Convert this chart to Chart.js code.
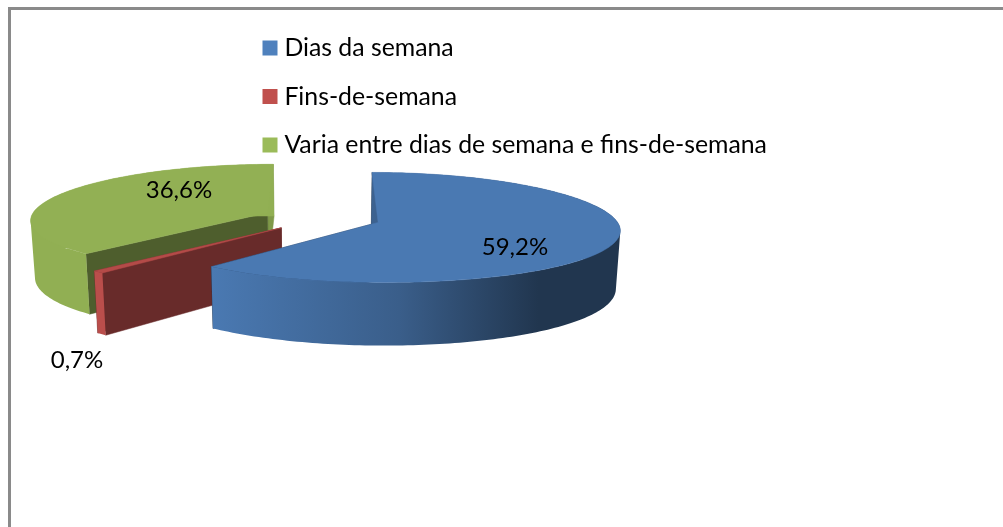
<!DOCTYPE html>
<html>
<head>
<meta charset="utf-8">
<style>html,body{margin:0;padding:0;background:#fff}canvas{display:block}</style>
<script src="https://cdn.jsdelivr.net/npm/chart.js@4/dist/chart.umd.js"></script>
</head>
<body>
<canvas id="c" width="1003" height="527"></canvas>
<script>
const categories = ['Dias da semana', 'Fins-de-semana', 'Varia entre dias de semana e fins-de-semana'];
const shares = [59.2, 0.7, 36.6];
const colors = ['#4F81BD', '#C0504D', '#9BBB59'];
const labelAnchors = [[515, 247], [77, 360], [179, 190]];

const FONT = 'Lato, Carlito, sans-serif';
const scene = {cx: 322, cy: 217.7, R: 237, A: 53.7, H: 57, PX: 0.12, PY: 0.09, explode: 0.25, foot: 0.985};
const faces = [
  {startWall: 0.40, endWall: 0.40, side: [[0, 0.94], [0.46, 0.73], [0.80, 0.42], [1, 0.42]]},
  {startWall: 0.54, endWall: 0.54, side: [[0, 0.97], [1, 0.97]]},
  {startWall: 0.50, endWall: 0.82, side: [[0, 0.935], [1, 0.935]]}
];
const TOP_SHADE = 0.94;

function shade(hex, k) {
  const n = parseInt(hex.slice(1), 16);
  return 'rgb(' + [(n >> 16) & 255, (n >> 8) & 255, n & 255].map(c => Math.round(c * k)).join(',') + ')';
}
function project(u, v, low) {
  const s = scene, wx = 1 - s.PX * v, wy = 1 - s.PY * v;
  return {
    x: s.cx + s.R * u / wx * (low ? s.foot : 1),
    y: s.cy + s.A * v / wy + (low ? s.H / wy : 0)
  };
}
function polygon(ctx, pts, fill) {
  ctx.beginPath();
  pts.forEach((p, i) => i ? ctx.lineTo(p.x, p.y) : ctx.moveTo(p.x, p.y));
  ctx.closePath();
  ctx.fillStyle = fill;
  ctx.strokeStyle = fill;
  ctx.lineWidth = 0.5;
  ctx.fill();
  ctx.stroke();
}
function signedArea(q) {
  let a = 0;
  q.forEach((p, i) => { const r = q[(i + 1) % q.length]; a += p.x * r.y - r.x * p.y; });
  return a;
}
function band(ctx, top, low, fill) {
  ctx.beginPath();
  for (let k = 0; k < top.length - 1; k++) {
    let q = [top[k], top[k + 1], low[k + 1], low[k]];
    if (signedArea(q) < 0) q = q.slice().reverse();
    q.forEach((p, i) => i ? ctx.lineTo(p.x, p.y) : ctx.moveTo(p.x, p.y));
    ctx.closePath();
  }
  ctx.fillStyle = fill;
  ctx.fill();
}

const pie3d = {
  id: 'pie3d',
  afterLayout(chart) {
    const lg = chart.legend, w = lg.width, h = lg.height;
    lg.left = 244.3; lg.right = lg.left + w;
    lg.top = 12; lg.bottom = lg.top + h;
  },
  beforeDraw(chart) {
    const ctx = chart.ctx;
    ctx.fillStyle = '#fff';
    ctx.fillRect(0, 0, chart.width, chart.height);
    ctx.fillStyle = '#8a8a8a';
    ctx.fillRect(8, 7, chart.width - 8, 3);
    ctx.fillRect(8, 7, 3, chart.height - 7);
  },
  beforeDatasetsDraw(chart) {
    const ctx = chart.ctx, meta = chart.getDatasetMeta(0);
    const order = meta.data.map((_, i) => i).reverse();
    order.forEach(i => {
      const arc = meta.data[i], a0 = arc.startAngle, a1 = arc.endAngle;
      const mid = (a0 + a1) / 2, e = scene.explode;
      const ou = Math.cos(mid) * e, ov = Math.sin(mid) * e;
      const col = arc.options.backgroundColor, f = faces[i];
      const n = Math.max(2, Math.ceil((a1 - a0) / 0.02));
      const rimT = [], rimB = [];
      for (let k = 0; k <= n; k++) {
        const t = a0 + (a1 - a0) * k / n;
        const u = ou + Math.cos(t), v = ov + Math.sin(t);
        rimT.push(project(u, v, false));
        rimB.push(project(u, v, true));
      }
      const apexT = project(ou, ov, false), apexB = project(ou, ov, true);
      polygon(ctx, [apexT, rimT[n], rimB[n], apexB], shade(col, f.endWall));
      polygon(ctx, [apexT, rimT[0], rimB[0], apexB], shade(col, f.startWall));
      const xs = rimT.map(p => p.x);
      const g = ctx.createLinearGradient(Math.min(...xs), 0, Math.max(...xs), 0);
      f.side.forEach(s => g.addColorStop(s[0], shade(col, s[1])));
      band(ctx, rimT, rimB, g);
      polygon(ctx, [apexT].concat(rimT), shade(col, TOP_SHADE));
    });
    return false;
  },
  afterDraw(chart) {
    const ctx = chart.ctx;
    ctx.save();
    ctx.fillStyle = '#000';
    ctx.font = '24px ' + FONT;
    ctx.textAlign = 'center';
    ctx.textBaseline = 'middle';
    shares.forEach((v, i) => {
      ctx.fillText(v.toFixed(1).replace('.', ',') + '%', labelAnchors[i][0], labelAnchors[i][1]);
    });
    ctx.restore();
  }
};

new Chart(document.getElementById('c'), {
  type: 'pie',
  data: {
    labels: categories,
    datasets: [{data: shares, backgroundColor: colors, borderWidth: 0}]
  },
  options: {
    responsive: false,
    animation: false,
    events: [],
    plugins: {
      tooltip: {enabled: false},
      legend: {
        position: 'right',
        align: 'start',
        maxWidth: 640,
        labels: {
          usePointStyle: true,
          pointStyle: 'rect',
          boxWidth: 4,
          boxHeight: 15,
          padding: 23.7,
          color: '#000',
          font: {family: FONT, size: 24.8, lineHeight: 1.15}
        }
      }
    }
  },
  plugins: [pie3d]
});
</script>
</body>
</html>
